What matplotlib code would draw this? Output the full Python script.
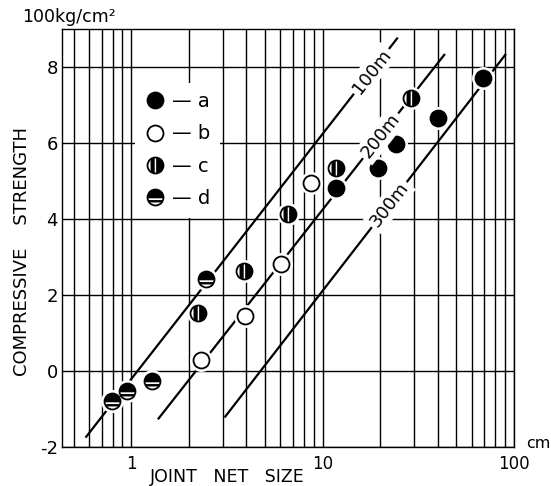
import numpy as np
import matplotlib
matplotlib.use("Agg")
import matplotlib.pyplot as plt
from matplotlib.path import Path
from matplotlib.markers import MarkerStyle
from matplotlib.lines import Line2D

# ---------------- data ----------------
a_x = [11.7, 19.4, 24.2, 40.3, 68.5]
a_y = [4.82, 5.35, 5.98, 6.65, 7.71]
b_x = [2.31, 3.92, 6.04, 8.73]
b_y = [0.29, 1.46, 2.82, 4.95]
c_x = [2.23, 3.90, 6.58, 11.7, 28.9]
c_y = [1.52, 2.63, 4.12, 5.35, 7.18]
d_x = [0.79, 0.95, 1.28, 2.46]
d_y = [-0.80, -0.53, -0.27, 2.42]

line_names = ["100m", "200m", "300m"]
line_x0 = [0.582, 1.39, 3.10]
line_y0 = [-1.73, -1.25, -1.20]
line_x1 = [24.5, 43.2, 90.0]
line_y1 = [8.75, 8.32, 8.32]
line_label_x = [18.0, 20.1, 22.3]

x_major = [1, 10, 100]
x_major_labels = ["1", "10", "100"]
x_minor = [0.5, 0.6, 0.7, 0.8, 0.9, 2, 3, 4, 5, 6, 7, 8, 9,
           20, 30, 40, 50, 60, 70, 80, 90]
y_ticks = [-2, 0, 2, 4, 6, 8]
y_tick_labels = ["-2", "0", "2", "4", "6", "8"]
legend_labels = ["a", "b", "c", "d"]

# ---------------- marker shapes ----------------
def strip(lo, hi, axis="y", n=40):
    t = np.linspace(lo, hi, n)
    w = np.sqrt(np.clip(1 - t ** 2, 0, None))
    if axis == "y":
        v = np.vstack([np.column_stack([w, t]), np.column_stack([-w[::-1], t[::-1]])])
    else:
        v = np.vstack([np.column_stack([t, -w]), np.column_stack([t[::-1], w[::-1]])])
    v = np.vstack([v, v[:1]])
    codes = [Path.MOVETO] + [Path.LINETO] * (len(v) - 2) + [Path.CLOSEPOLY]
    return Path(v, codes)

c_path = Path.make_compound_path(strip(-0.62, -0.10, "x"), strip(0.08, 1.0, "x"))
d_path = Path.make_compound_path(strip(-0.10, 1.0, "y"), strip(-0.62, -0.32, "y"))
c_marker = MarkerStyle(c_path)
d_marker = MarkerStyle(d_path)

MS = 11.5
MEW = 1.3

def styles(kind):
    out = []
    if kind == "a":
        out.append(dict(marker="o", ms=MS, mfc="black", mec="black", mew=MEW, ls="none"))
    elif kind == "b":
        out.append(dict(marker="o", ms=MS, mfc="white", mec="black", mew=MEW, ls="none"))
    else:
        out.append(dict(marker="o", ms=MS, mfc="white", mec="none", ls="none"))
        out.append(dict(marker=c_marker if kind == "c" else d_marker, ms=MS,
                        mfc="black", mec="none", mew=0, ls="none"))
        out.append(dict(marker="o", ms=MS, mfc="none", mec="black", mew=MEW, ls="none"))
    return out

# ---------------- figure ----------------
fig = plt.figure(figsize=(5.51, 4.86), dpi=100)
ax = fig.add_axes([62 / 551, 1 - 447 / 486, 452 / 551, 418 / 486])
ax.set_xscale("log")
ax.set_xlim(0.435, 100)
ax.set_ylim(-2, 9)

ax.set_xticks(x_major)
ax.set_xticklabels(x_major_labels)
ax.set_xticks(x_minor, minor=True)
ax.set_xticklabels([], minor=True)
ax.set_yticks(y_ticks)
ax.set_yticklabels(y_tick_labels)
ax.tick_params(which="both", length=0)
ax.tick_params(axis="x", labelsize=12, pad=6)
ax.tick_params(axis="y", labelsize=13, pad=3)
ax.set_axisbelow(True)
ax.grid(which="both", axis="x", color="black", lw=1.0)
ax.grid(which="major", axis="y", color="black", lw=1.0)
for s in ax.spines.values():
    s.set_linewidth(1.0)

# diagonal lines
for x0, y0, x1, y1 in zip(line_x0, line_y0, line_x1, line_y1):
    ax.plot([x0, x1], [y0, y1], color="black", lw=1.6, zorder=2)

# data points with white halo
groups = {"a": (a_x, a_y), "b": (b_x, b_y), "c": (c_x, c_y), "d": (d_x, d_y)}
for k, (xs, ys) in groups.items():
    ax.plot(xs, ys, marker="o", ms=MS + 5, mfc="white", mec="none", ls="none", zorder=3)
    for i, st in enumerate(styles(k)):
        ax.plot(xs, ys, zorder=3.1 + 0.1 * i, **st)

# line labels
fig.canvas.draw()
for name, x0, y0, x1, y1, lx in zip(line_names, line_x0, line_y0, line_x1, line_y1, line_label_x):
    frac = (np.log10(lx) - np.log10(x0)) / (np.log10(x1) - np.log10(x0))
    ly = y0 + (y1 - y0) * frac
    p0 = ax.transData.transform((x0, y0))
    p1 = ax.transData.transform((x1, y1))
    ang = np.degrees(np.arctan2(p1[1] - p0[1], p1[0] - p0[0]))
    ax.text(lx, ly, name, rotation=ang, rotation_mode="anchor", ha="center", va="center",
            fontsize=13, zorder=4,
            bbox=dict(boxstyle="square,pad=0.15", fc="white", ec="none"))

# legend
handles = [tuple(Line2D([], [], **st) for st in styles(k)) for k in legend_labels]
leg = ax.legend(handles, ["\u2014 " + l for l in legend_labels], loc="upper left",
                bbox_to_anchor=(0.162, 0.872), frameon=True, fancybox=False,
                facecolor="white", edgecolor="none", framealpha=1, fontsize=14,
                handlelength=1.0, handletextpad=0.4, labelspacing=0.68,
                borderpad=0.5, borderaxespad=0)
leg.set_zorder(5)

# texts
fig.text(22 / 551, 1 - 17 / 486, "100kg/cm\u00b2", fontsize=12.5, ha="left", va="center")
fig.text(538 / 551, 1 - 444 / 486, "cm", fontsize=11.5, ha="center", va="center")
fig.text(227 / 551, 1 - 477 / 486, "JOINT   NET   SIZE", fontsize=12.5, ha="center", va="center")
fig.text(22 / 551, 1 - 251 / 486, "COMPRESSIVE    STRENGTH", fontsize=13, rotation=90,
         ha="center", va="center")

fig.savefig("out.png", dpi=100)
